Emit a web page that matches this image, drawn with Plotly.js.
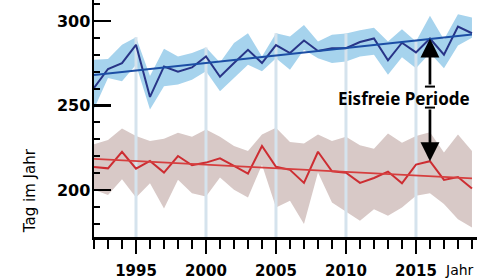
<!DOCTYPE html>
<html><head><meta charset="utf-8">
<script src="https://cdn.plot.ly/plotly-3.0.1.min.js"></script>
<style>html,body{margin:0;padding:0;background:#fff;}#chart{width:477px;height:280px;}</style>
</head><body><div id="chart"></div>
<script>
// ---- data ----
const years = [1992,1993,1994,1995,1996,1997,1998,1999,2000,2001,2002,2003,2004,2005,2006,2007,2008,2009,2010,2011,2012,2013,2014,2015,2016,2017,2018,2019];
// freeze-up (blue)
const freezeDay   = [260.4,271.6,275.1,285.9,255.1,273.1,270.0,272.5,279.0,267.0,275.1,282.9,275.1,285.7,281.0,288.4,282.2,283.9,283.9,287.5,289.6,276.7,287.1,281.4,289.6,280.0,296.7,292.7];
const freezeUpper = [277.0,277.5,285.9,290.4,267.5,283.5,279.0,281.0,284.3,275.5,286.9,292.7,279.0,292.7,290.8,297.6,287.8,291.8,292.5,294.5,296.0,287.8,295.0,287.8,303.0,289.0,304.0,302.0];
const freezeLower = [248.0,266.3,264.3,274.1,247.6,261.4,262.4,265.3,270.2,258.4,266.3,274.1,270.2,278.0,271.2,282.9,278.0,275.1,276.0,279.0,280.0,268.2,278.5,272.0,281.0,272.0,285.5,290.0];
// break-up (red)
const breakupDay   = [213.7,212.9,222.7,212.7,217.3,210.4,220.2,214.7,216.3,218.8,214.3,209.8,226.1,213.8,212.0,204.3,222.7,211.2,210.3,204.3,207.2,211.0,204.1,215.1,217.1,206.1,207.8,201.0];
const breakupUpper = [227.1,229.6,236.5,232.0,229.0,230.4,233.9,231.6,235.9,231.5,226.1,223.1,232.9,236.9,228.4,227.6,232.9,229.0,231.5,226.5,224.5,233.5,228.0,232.0,234.3,222.2,232.9,223.1];
const breakupLower = [200.2,197.1,206.5,195.7,204.1,189.2,206.1,198.2,196.3,207.5,200.2,195.7,215.0,189.8,193.7,180.0,210.4,192.7,187.3,182.0,188.8,184.9,189.8,196.7,198.2,191.8,182.9,178.0];
// linear trends (end points)
const trendYears   = [1992, 2019];
const freezeTrend  = [268.1, 292.0];
const breakupTrend = [218.5, 207.0];
// axis ticks
const xTickVals = [1995, 2000, 2005, 2010, 2015];
const xTickText = ['1995', '2000', '2005', '2010', '2015'];
const yTickVals = [200, 250, 300];
const yTickText = ['200', '250', '300'];
const gridYears = [1995, 2000, 2005, 2010, 2015];
const arrowYear = 2016;

// ---- layout constants ----
const xRange = [1992, 2019.36];
const yRange = [172.35, 312.35];
const barUpper = 261.2, barLower = 248.8, barHalf = 0.36;

const BLUE_BAND = 'rgb(166,211,237)';
const RED_BAND = 'rgb(216,201,199)';
const GRID = 'rgb(213,227,237)';

function band(up, lo, color) {
  return {x: years.concat(years.slice().reverse()), y: up.concat(lo.slice().reverse()),
    type: 'scatter', mode: 'lines', fill: 'toself', fillcolor: color,
    line: {width: 0}, hoverinfo: 'skip', showlegend: false};
}
const traces = [band(freezeUpper, freezeLower, BLUE_BAND), band(breakupUpper, breakupLower, RED_BAND)];
gridYears.forEach(g => {
  const i = years.indexOf(g);
  traces.push({x: [g, g], y: [freezeUpper[i], yRange[0]], type: 'scatter', mode: 'lines',
    line: {color: GRID, width: 3}, showlegend: false, hoverinfo: 'skip'});
});
traces.push({x: years, y: breakupDay, type: 'scatter', mode: 'lines', line: {color: 'rgb(205,45,50)', width: 2}, showlegend: false});
traces.push({x: trendYears, y: breakupTrend, type: 'scatter', mode: 'lines', line: {color: 'rgb(214,62,62)', width: 1.8}, showlegend: false});
traces.push({x: years, y: freezeDay, type: 'scatter', mode: 'lines', line: {color: 'rgb(40,52,135)', width: 2}, showlegend: false});
traces.push({x: trendYears, y: freezeTrend, type: 'scatter', mode: 'lines', line: {color: 'rgb(28,78,165)', width: 2}, showlegend: false});

const ai = years.indexOf(arrowYear);
const tickFont = {family: 'DejaVu Sans', size: 16, color: '#000', weight: 'bold'};

const layout = {
  width: 477, height: 280,
  margin: {l: 94, r: 0, t: 0, b: 43},
  paper_bgcolor: '#fff', plot_bgcolor: '#fff',
  showlegend: false,
  xaxis: {
    range: xRange, showgrid: false, zeroline: false,
    showline: true, linecolor: '#000', linewidth: 2.5,
    tickmode: 'array', tickvals: xTickVals, ticktext: xTickText,
    ticks: 'outside', ticklen: 14, tickwidth: 2.5, tickcolor: '#000',
    tickfont: {family: 'DejaVu Sans', size: 15, color: '#000', weight: 'bold'},
    ticklabelstandoff: 4,
    minor: {tickmode: 'linear', tick0: 1992, dtick: 1, ticks: 'outside', ticklen: 9, tickwidth: 2, tickcolor: '#000', showgrid: false}
  },
  yaxis: {
    range: yRange, showgrid: false, zeroline: false,
    showline: true, linecolor: '#000', linewidth: 2.5,
    tickmode: 'array', tickvals: yTickVals, ticktext: yTickText,
    ticks: 'inside', ticklen: 17, tickwidth: 2.5, tickcolor: '#000',
    tickfont: tickFont, ticklabelstandoff: -2,
    minor: {tickmode: 'linear', tick0: 0, dtick: 10, ticks: 'inside', ticklen: 6, tickwidth: 2, tickcolor: '#000', showgrid: false}
  },
  shapes: [
    {type: 'line', xref: 'x', yref: 'y', x0: arrowYear - barHalf, x1: arrowYear + barHalf, y0: barUpper, y1: barUpper, line: {color: '#000', width: 2}},
    {type: 'line', xref: 'x', yref: 'y', x0: arrowYear - barHalf, x1: arrowYear + barHalf, y0: barLower, y1: barLower, line: {color: '#000', width: 2}}
  ],
  annotations: [
    {x: arrowYear, y: freezeDay[ai], xref: 'x', yref: 'y', ax: arrowYear, ay: barUpper, axref: 'x', ayref: 'y',
     text: ' ', font: {size: 1}, showarrow: true, arrowhead: 2, arrowsize: 1.4, arrowwidth: 2.7, arrowcolor: '#000', standoff: 0},
    {x: arrowYear, y: breakupDay[ai], xref: 'x', yref: 'y', ax: arrowYear, ay: barLower, axref: 'x', ayref: 'y',
     text: ' ', font: {size: 1}, showarrow: true, arrowhead: 2, arrowsize: 1.4, arrowwidth: 2.7, arrowcolor: '#000', standoff: 0},
    {text: 'Eisfreie Periode', xref: 'paper', yref: 'paper', x: (403.5 - 94) / 383, y: (238 - 98.5) / 238,
     xanchor: 'center', yanchor: 'middle', showarrow: false, bgcolor: 'rgba(0,0,0,0)',
     font: {family: 'Noto Sans', size: 17, color: '#000', weight: 'bold'}},
    {text: 'Tag im Jahr', xref: 'paper', yref: 'paper', x: (30 - 94) / 383, y: (238 - 192) / 238,
     xanchor: 'center', yanchor: 'middle', textangle: -90, showarrow: false,
     font: {family: 'DejaVu Sans', size: 15, color: '#000'}},
    {text: 'Jahr', xref: 'paper', yref: 'paper', x: (475 - 94) / 383, y: (238 - 271) / 238,
     xanchor: 'right', yanchor: 'middle', showarrow: false, borderpad: 0,
     font: {family: 'DejaVu Sans', size: 14, color: '#000'}}
  ]
};

Plotly.newPlot('chart', traces, layout, {staticPlot: true, displayModeBar: false});
</script>
</body></html>
